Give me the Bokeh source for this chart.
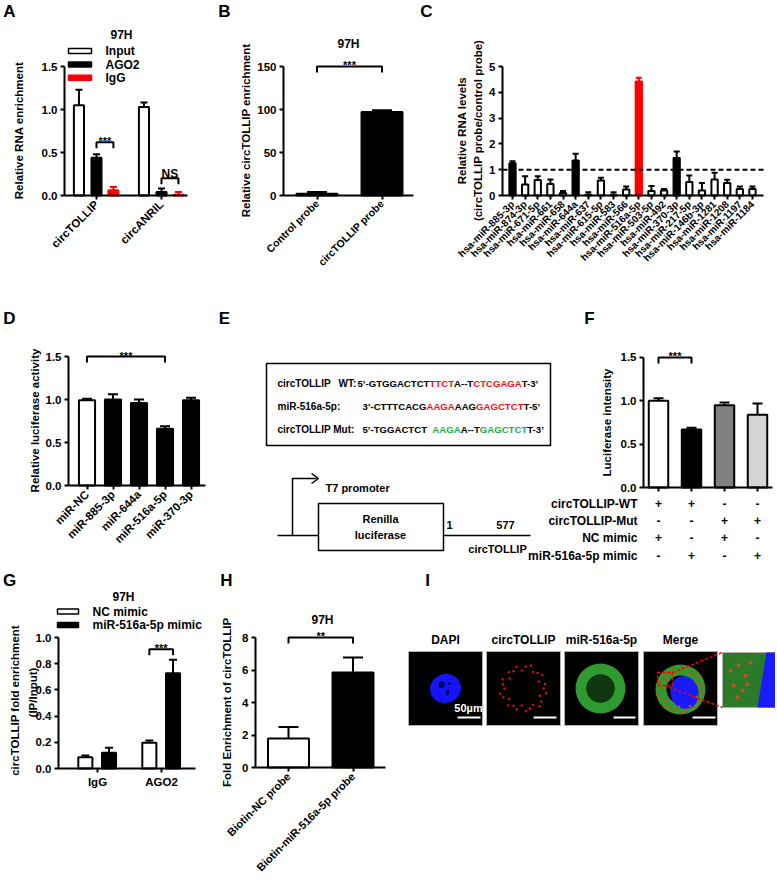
import math
from bokeh.plotting import figure
from bokeh.models import (Range1d, FixedTicker, PrintfTickFormatter, Whisker, TeeHead,
                          ColumnDataSource)
from bokeh.layouts import row, column
from bokeh.embed import file_html
from bokeh.resources import INLINE
from bokeh.core.properties import value

FONT = "Liberation Sans"

# ----------------------------- data -----------------------------
A_groups = ["circTOLLIP", "circANRIL"]
A_series = ["Input", "AGO2", "IgG"]
A_input = [1.05, 1.03]
A_input_err = [0.18, 0.05]
A_ago2 = [0.44, 0.04]
A_ago2_err = [0.04, 0.04]
A_igg = [0.06, 0.01]
A_igg_err = [0.04, 0.03]
A_sig = ["***", "NS"]

B_cats = ["Control probe", "circTOLLIP probe"]
B_vals = [2.0, 97.0]
B_err = [2.0, 2.0]

C_mirs = ["hsa-miR-885-3p", "hsa-miR-874-3p", "hsa-miR-671-5p", "hsa-miR-661", "hsa-miR-658",
          "hsa-miR-644a", "hsa-miR-637", "hsa-miR-615-5p", "hsa-miR-583", "hsa-miR-566",
          "hsa-miR-516a-5p", "hsa-miR-503-5p", "hsa-miR-492", "hsa-miR-370-3p", "hsa-miR-217-5p",
          "hsa-miR-146b-3p", "hsa-miR-1281", "hsa-miR-1208", "hsa-miR-1197", "hsa-miR-1184"]
C_vals = [1.25, 0.43, 0.60, 0.45, 0.10, 1.36, 0.03, 0.58, 0.03, 0.23,
          4.42, 0.17, 0.19, 1.45, 0.52, 0.19, 0.62, 0.48, 0.25, 0.25]
C_err = [0.08, 0.32, 0.15, 0.17, 0.07, 0.26, 0.10, 0.11, 0.10, 0.12,
         0.14, 0.20, 0.06, 0.26, 0.26, 0.29, 0.26, 0.13, 0.10, 0.10]
C_black = ["hsa-miR-885-3p", "hsa-miR-644a", "hsa-miR-370-3p"]
C_red = ["hsa-miR-516a-5p"]

D_cats = ["miR-NC", "miR-885-3p", "miR-644a", "miR-516a-5p", "miR-370-3p"]
D_vals = [0.99, 1.00, 0.96, 0.66, 0.99]
D_err = [0.02, 0.06, 0.04, 0.03, 0.03]

E_lines = [
    (["circTOLLIP", "WT:"], [("5\u2019-GTGGACTCT", "black"), ("TTCT", "red"), ("A--T", "black"),
                             ("CTCGAGA", "red"), ("T-3\u2019", "black")]),
    (["miR-516a-5p:"], [("3\u2019-CTTTCACG", "black"), ("AAGA", "red"), ("AAG", "black"),
                        ("GAGCTCT", "red"), ("T-5\u2019", "black")]),
    (["circTOLLIP Mut:"], [("5\u2019-TGGACTCT  ", "black"), ("AAGA", "green"), ("A--T", "black"),
                           ("GAGCTCT", "green"), ("T-3\u2019", "black")]),
]
E_diagram = ["T7 promoter", "Renilla", "luciferase", "1", "577", "circTOLLIP"]

F_vals = [1.00, 0.67, 0.95, 0.84]
F_err = [0.03, 0.02, 0.03, 0.13]
F_rows = ["circTOLLIP-WT", "circTOLLIP-Mut", "NC mimic", "miR-516a-5p mimic"]
F_signs = [["+", "+", "-", "-"], ["-", "-", "+", "+"], ["+", "-", "+", "-"], ["-", "+", "-", "+"]]

G_groups = ["IgG", "AGO2"]
G_series = ["NC mimic", "miR-516a-5p mimic"]
G_nc = [0.086, 0.196]
G_nc_err = [0.014, 0.018]
G_mir = [0.12, 0.727]
G_mir_err = [0.038, 0.103]

H_cats = ["Biotin-NC probe", "Biotin-miR-516a-5p probe"]
H_vals = [1.78, 5.85]
H_err = [0.72, 0.92]

I_titles = ["DAPI", "circTOLLIP", "miR-516a-5p", "Merge"]

# ----------------------------- helpers -----------------------------
BW = {' ': 278, '\u2019': 278, "'": 238, '-': 333, ':': 333, 'A': 722, 'C': 722, 'G': 778,
      'T': 611, 'W': 944, 'M': 833, 'I': 278, 'L': 611, 'O': 778, 'P': 667, 'R': 722,
      'a': 556, 'c': 556, 'i': 278, 'r': 389, 't': 333, 'u': 611, 'm': 889, 'p': 611}


def twidth(s, size):
    return sum(BW.get(ch, 556) for ch in s) * size / 1000.0


class Pan:
    pass


def panel(X0, X1, Y0, Y1, x0px=0.0, step=1.0, y0px=0.0, scale=-1.0, axes=True):
    """Figure covering page region [X0,X1]x[Y0,Y1]; data x=(px-x0px)/step, y=(y0px-py)/scale."""
    xr = ((X0 - x0px) / step, (X1 - x0px) / step)
    yr = ((y0px - Y1) / scale, (y0px - Y0) / scale)
    kw = dict(width=X1 - X0, height=Y1 - Y0, x_range=Range1d(*xr), y_range=Range1d(*yr),
              min_border=0, output_backend="svg", toolbar_location=None,
              outline_line_color=None, background_fill_color="white",
              border_fill_color="white")
    if not axes:
        kw.update(x_axis_location=None, y_axis_location=None)
    p = figure(**kw)
    for g in p.grid:
        g.visible = False
    P = Pan()
    P.p = p
    P.X = lambda px: (px - x0px) / step
    P.Y = lambda py: (y0px - py) / scale
    P.sy = scale
    return P


def set_axes(P, yaxis_px, xright_px, ymax, yticks, fmt=None):
    p = P.p
    for ax in p.axis:
        ax.axis_line_width = 2
        ax.axis_line_color = "black"
        ax.major_tick_line_width = 2
        ax.major_tick_line_color = "black"
        ax.major_tick_out = 4
        ax.major_tick_in = 0
        ax.minor_tick_line_color = None
        ax.major_label_text_font = FONT
        ax.major_label_text_font_style = "bold"
        ax.major_label_text_font_size = "11.5px"
        ax.major_label_text_color = "black"
        ax.major_label_standoff = 3
    p.yaxis.fixed_location = P.X(yaxis_px)
    p.yaxis.bounds = (0, ymax)
    p.yaxis.ticker = FixedTicker(ticks=yticks)
    if fmt:
        p.yaxis.formatter = PrintfTickFormatter(format=fmt)
    p.xaxis.fixed_location = 0
    p.xaxis.bounds = (P.X(yaxis_px), P.X(xright_px))


def xcats(P, names, angle=0, size="11.5px", standoff=3):
    p = P.p
    p.xaxis.ticker = FixedTicker(ticks=list(range(len(names))))
    p.xaxis.major_label_overrides = {i: n for i, n in enumerate(names)}
    if angle:
        p.xaxis.major_label_orientation = angle
    p.xaxis.major_label_text_font_size = size
    p.xaxis.major_label_standoff = standoff


def errbars(P, xs, vals, errs, color, head):
    src = ColumnDataSource(dict(x=xs, lo=vals, hi=[v + e for v, e in zip(vals, errs)]))
    w = Whisker(source=src, base="x", lower="lo", upper="hi", line_color=color, line_width=2,
                lower_head=None,
                upper_head=TeeHead(size=head, line_color=color, line_width=2))
    w.level = "glyph"
    P.p.add_layout(w)


def txt(P, px, py, texts, size="12px", bold=True, align="center", baseline="middle",
        color="black", angle=0.0):
    if isinstance(texts, str):
        texts = [texts]
    n = len(texts)
    px = px if isinstance(px, list) else [px] * n
    py = py if isinstance(py, list) else [py] * n
    P.p.text(x=[P.X(v) for v in px], y=[P.Y(v) for v in py], text=texts,
             text_font=value(FONT), text_font_size=size,
             text_font_style="bold" if bold else "normal", text_align=align,
             text_baseline=baseline, text_color=color, angle=angle)


def bracket(P, x1, x2, y, drop_px, text, gap_px=1, size="11px"):
    d = 1.0 / P.sy
    P.p.line(x=[x1, x1, x2, x2], y=[y - drop_px * d, y, y, y - drop_px * d],
             line_color="black", line_width=2)
    P.p.text(x=[(x1 + x2) / 2], y=[y + gap_px * d], text=[text], text_font=value(FONT),
             text_font_size=size, text_font_style="bold", text_align="center",
             text_baseline="alphabetic", text_color="black")


def glyph_legend(P, items, rect_l, rect_r, text_x, rows_y, h=5):
    for (name, fill, line), ry in zip(items, rows_y):
        P.p.quad(left=[P.X(rect_l)], right=[P.X(rect_r)], top=[P.Y(ry - h / 2)],
                 bottom=[P.Y(ry + h / 2)], fill_color=fill, line_color=line, line_width=1.5)
        txt(P, text_x, ry, name, size="12px", align="left")


VERT = math.pi / 2
W_TOT, H_TOT = 775, 887
R1, R2 = 268, 566   # row boundaries (page px)

# ----------------------------- A -----------------------------
A = panel(0, 236, 0, R1, 96, 65, 195, 86)
set_axes(A, 64, 187, 1.5, [0, 0.5, 1.0, 1.5], "%.1f")
xcats(A, A_groups, angle=math.pi / 4)
A_off = [-0.27, 0.0, 0.26]
A_fill = ["white", "black", "red"]
A_line = ["black", "black", "red"]
for k, (vals, errs) in enumerate([(A_input, A_input_err), (A_ago2, A_ago2_err),
                                  (A_igg, A_igg_err)]):
    xs = [i + A_off[k] for i in range(len(A_groups))]
    A.p.vbar(x=xs, top=vals, width=0.155, fill_color=A_fill[k], line_color=A_line[k],
             line_width=2)
    errbars(A, xs, vals, errs, A_line[k], 7)
glyph_legend(A, list(zip(A_series, A_fill, A_line)), 68, 91, 105, [50.5, 64, 77.3])
bracket(A, A_off[1], A_off[2], 0.62, 6, A_sig[0])
bracket(A, 1 + A_off[1], 1 + A_off[2], 0.20, 6, A_sig[1], gap_px=4, size="12px")
txt(A, 121, 34.5, "97H")
txt(A, 18, 130, "Relative RNA enrichment", size="11.5px", angle=VERT)
txt(A, 9, 11, "A", size="17px")
txt(A, 224, 11, "B", size="17px")

# ----------------------------- B -----------------------------
B = panel(236, 418, 0, R1, 316.5, 65, 195, 0.86)
set_axes(B, 283, 413, 150, [0, 50, 100, 150])
xcats(B, B_cats, angle=math.pi / 4, size="10.5px", standoff=2)
B_x = list(range(len(B_cats)))
B.p.vbar(x=B_x, top=B_vals, width=0.63, fill_color="black", line_color="black", line_width=2)
errbars(B, B_x, B_vals, B_err, "black", 20)
bracket(B, 0, 1, 150, 6, "***", gap_px=2)
txt(B, 348, 43.5, "97H")
txt(B, 245, 130, "Relative circTOLLIP enrichment", size="11.5px", angle=VERT)

# ----------------------------- C -----------------------------
C = panel(418, W_TOT, 0, R1, 512, 12.63, 195, 25.8)
set_axes(C, 502, 763, 5, [0, 1, 2, 3, 4, 5])
xcats(C, C_mirs, angle=math.pi / 4, size="10px")
C_fill = ["red" if m in C_red else "black" if m in C_black else "white" for m in C_mirs]
C_line = ["red" if m in C_red else "black" for m in C_mirs]
C_x = list(range(len(C_mirs)))
C.p.vbar(x=C_x, top=C_vals, width=0.5, fill_color=C_fill, line_color=C_line, line_width=2)
for col in ("black", "red"):
    idx = [i for i in C_x if C_line[i] == col]
    errbars(C, idx, [C_vals[i] for i in idx], [C_err[i] for i in idx], col, 6)
C.p.line(x=[C.X(502), C.X(763)], y=[1, 1], line_color="black", line_width=2, line_dash="5 3")
txt(C, 461, 130, "Relative RNA levels", size="11.5px", angle=VERT)
txt(C, 477, 130, "(circTOLLIP probe/control probe)", size="11.5px", angle=VERT)
txt(C, 426, 11, "C", size="17px")

# ----------------------------- D -----------------------------
D = panel(0, 255, R1, R2, 86.5, 26, 485, 86)
set_axes(D, 68, 205, 1.5, [0, 0.5, 1.0, 1.5], "%.1f")
xcats(D, D_cats, angle=math.pi / 4)
D_fill = ["white"] + ["black"] * (len(D_cats) - 1)
D_x = list(range(len(D_cats)))
D.p.vbar(x=D_x, top=D_vals, width=0.62, fill_color=D_fill, line_color="black", line_width=2)
errbars(D, D_x, D_vals, D_err, "black", 10)
bracket(D, 0, 3, 1.5, 6, "***", gap_px=1)
txt(D, 34, 420, "Relative luciferase activity", size="11.5px", angle=VERT)
txt(D, 9, 318, "D", size="17px")
txt(D, 224, 318, "E", size="17px")

# ----------------------------- E + F -----------------------------
F = panel(255, W_TOT, R1, R2, 658, 33, 487, 86.67)
set_axes(F, 643, 772, 1.5, [0, 0.5, 1.0, 1.5], "%.1f")
F_x = list(range(len(F_vals)))
F.p.xaxis.ticker = FixedTicker(ticks=F_x)
F.p.xaxis.major_label_overrides = {i: "" for i in F_x}
F_fill = ["white", "black", "#808080", "#d4d4d4"]
F.p.vbar(x=F_x, top=F_vals, width=0.59, fill_color=F_fill, line_color="black", line_width=2)
errbars(F, F_x, F_vals, F_err, "black", 10)
bracket(F, 0, 1, 1.5, 6, "***", gap_px=1)
txt(F, 606, 422, "Luciferase intensity", size="11.5px", angle=VERT)
txt(F, 589, 318, "F", size="17px")
F_rows_y = [503, 520, 537, 555]
F_px = [658 + 33 * i for i in F_x]
for rname, signs, ry in zip(F_rows, F_signs, F_rows_y):
    txt(F, 637, ry, rname, size="12px", align="right")
    txt(F, F_px, ry, signs, size="12px")

# E (drawn in the same canvas, page-pixel positions converted through F's scales)
pE = F.p
pE.quad(left=[F.X(266)], right=[F.X(550)], top=[F.Y(363)], bottom=[F.Y(445)],
        fill_color=None, line_color="black", line_width=1.5)
E_rows_y = [383, 406, 429]
E_label_x = [[277, 338], [277], [277]]
E_seq_x = [357, 362, 362]
ESZ = 9.6
for (lbls, segs), yy, lxs, sx in zip(E_lines, E_rows_y, E_label_x, E_seq_x):
    txt(F, lxs, yy, lbls, size="10px", align="left")
    xs, ts, cs = [], [], []
    cx = sx
    for s, c in segs:
        xs.append(cx)
        ts.append(s)
        cs.append({"green": "#1fae4b", "red": "#ff1010"}.get(c, "black"))
        cx += twidth(s, ESZ)
    pE.text(x=[F.X(v) for v in xs], y=[F.Y(yy)] * len(xs), text=ts, text_color=cs,
            text_font=value(FONT), text_font_size="%.1fpx" % ESZ, text_font_style="bold",
            text_baseline="middle", text_align="left")
pE.line(x=[F.X(277), F.X(318)], y=[F.Y(535)] * 2, line_color="black", line_width=1.5)
pE.line(x=[F.X(443), F.X(530)], y=[F.Y(535)] * 2, line_color="black", line_width=1.5)
pE.line(x=[F.X(292), F.X(292), F.X(316)], y=[F.Y(535), F.Y(478), F.Y(478)],
        line_color="black", line_width=1.5)
pE.line(x=[F.X(311), F.X(318), F.X(311)], y=[F.Y(473), F.Y(478), F.Y(483)],
        line_color="black", line_width=1.5)
pE.quad(left=[F.X(318)], right=[F.X(443)], top=[F.Y(503)], bottom=[F.Y(550)],
        fill_color="white", line_color="black", line_width=1.5)
txt(F, 325, 487, E_diagram[0], size="11px", align="left")
txt(F, [380, 380, 449, 505, 497], [518, 534, 524, 524, 548], E_diagram[1:], size="11px")

# ----------------------------- G -----------------------------
G = panel(0, 215, R2, H_TOT, 97, 64, 768, 131)
set_axes(G, 58, 195, 1.0, [0, 0.2, 0.4, 0.6, 0.8, 1.0], "%.1f")
xcats(G, G_groups)
G_off = [-0.19, 0.18]
G_fill = ["white", "black"]
for k, (vals, errs) in enumerate([(G_nc, G_nc_err), (G_mir, G_mir_err)]):
    xs = [i + G_off[k] for i in range(len(G_groups))]
    G.p.vbar(x=xs, top=vals, width=0.22, fill_color=G_fill[k], line_color="black",
             line_width=2)
    errbars(G, xs, vals, errs, "black", 8)
glyph_legend(G, [(G_series[0], "white", "black"), (G_series[1], "black", "black")],
             57, 78, 92, [611, 624.5])
bracket(G, 1 + G_off[0], 1 + G_off[1], 0.91, 6, "***", gap_px=1)
txt(G, 123, 596, "97H")
txt(G, 14, 700, "circTOLLIP fold enrichment", size="11.5px", angle=VERT)
txt(G, 32, 692, "(IP/Input)", size="11.5px", angle=VERT)
txt(G, 9, 580, "G", size="17px")

# ----------------------------- H -----------------------------
H = panel(215, 405, R2, H_TOT, 288, 64.5, 767, 16.25)
set_axes(H, 255, 385, 8, [0, 2, 4, 6, 8])
xcats(H, H_cats, angle=math.pi / 4, size="11px")
H_x = list(range(len(H_cats)))
H.p.vbar(x=H_x, top=H_vals, width=0.635, fill_color=["white", "black"], line_color="black",
         line_width=2)
errbars(H, H_x, H_vals, H_err, "black", 20)
bracket(H, 0, 1, 8, 6, "**", gap_px=2)
txt(H, 322, 619, "97H")
txt(H, 226, 702, "Fold Enrichment of circTOLLIP", size="11.5px", angle=VERT)
txt(H, 226, 580, "H", size="17px")

# ----------------------------- I -----------------------------
I = panel(405, W_TOT, R2, H_TOT, axes=False)
pI = I.p
I_left = [408, 486, 564, 643]
I_size = 74
pI.quad(left=I_left, right=[l + I_size for l in I_left], top=[651] * 4, bottom=[725] * 4,
        fill_color="black", line_color="#b0b0b0", line_width=1)
txt(I, [l + I_size / 2 for l in I_left], 639, I_titles, size="12px")
pI.ellipse(x=[445], y=[688], width=[31], height=[29], angle=[0.3], fill_color="#1414ff",
           line_color=None)
pI.ellipse(x=[441, 447, 449], y=[684, 692, 683], width=[6, 3, 3], height=[7, 6, 3],
           fill_color="#000050", line_color=None)
ring_ang = [i * 12 for i in range(30)]
ring_r = [20, 23, 18, 22, 24, 19, 21, 23, 17, 22] * 3
pI.scatter(x=[523 + r * math.cos(math.radians(a)) for a, r in zip(ring_ang, ring_r)],
           y=[688 + r * math.sin(math.radians(a)) for a, r in zip(ring_ang, ring_r)],
           size=2.5, color="#d01010", line_color=None)
pI.annulus(x=[600], y=[688], inner_radius=[14], outer_radius=[25], fill_color="#2f9a2f",
           line_color=None)
pI.circle(x=[600], y=[688], radius=[14], fill_color="#103810", line_color=None)
pI.annulus(x=[680], y=[689], inner_radius=[14], outer_radius=[25], fill_color="#2f9a2f",
           line_color=None)
pI.ellipse(x=[684], y=[692], width=[28], height=[33], angle=[0.2], fill_color="#1a1aff",
           line_color=None)
pI.scatter(x=[680 + r * math.cos(math.radians(a)) for a, r in zip(ring_ang, ring_r)],
           y=[689 + r * math.sin(math.radians(a)) for a, r in zip(ring_ang, ring_r)],
           size=2.5, color="#e04010", line_color=None)
pI.quad(left=[722], right=[777], top=[652], bottom=[707], fill_color="#2a7a2a",
        line_color="#b0b0b0", line_width=1)
pI.patch(x=[757, 777, 777, 766], y=[707, 707, 652, 652], fill_color="#1a1aff", line_color=None)
pI.scatter(x=[730, 738, 745, 733, 742, 750, 737, 747], y=[670, 665, 675, 685, 690, 662, 697, 684],
           size=4, color="#c85020", line_color=None)
pI.quad(left=[657], right=[672], top=[672], bottom=[685], fill_color=None,
        line_color="red", line_width=1.5, line_dash="3 2")
pI.line(x=[672, 722], y=[672, 652], line_color="red", line_width=1.5, line_dash="3 2")
pI.line(x=[664, 722], y=[685, 707], line_color="red", line_width=1.5, line_dash="3 2")
for x0, x1 in [(457, 480), (533, 556), (613, 635), (692, 715)]:
    pI.line(x=[x0, x1], y=[717, 717], line_color="white", line_width=2)
txt(I, 468, 707, "50\u00b5m", size="11px", color="white")
txt(I, 427, 580, "I", size="17px")


def wrap(P):
    return column(P.p)


layout = column(row(wrap(A), wrap(B), wrap(C)), row(wrap(D), wrap(F)),
                row(wrap(G), wrap(H), wrap(I)))
open("out.html", "w").write(file_html(layout, INLINE))
